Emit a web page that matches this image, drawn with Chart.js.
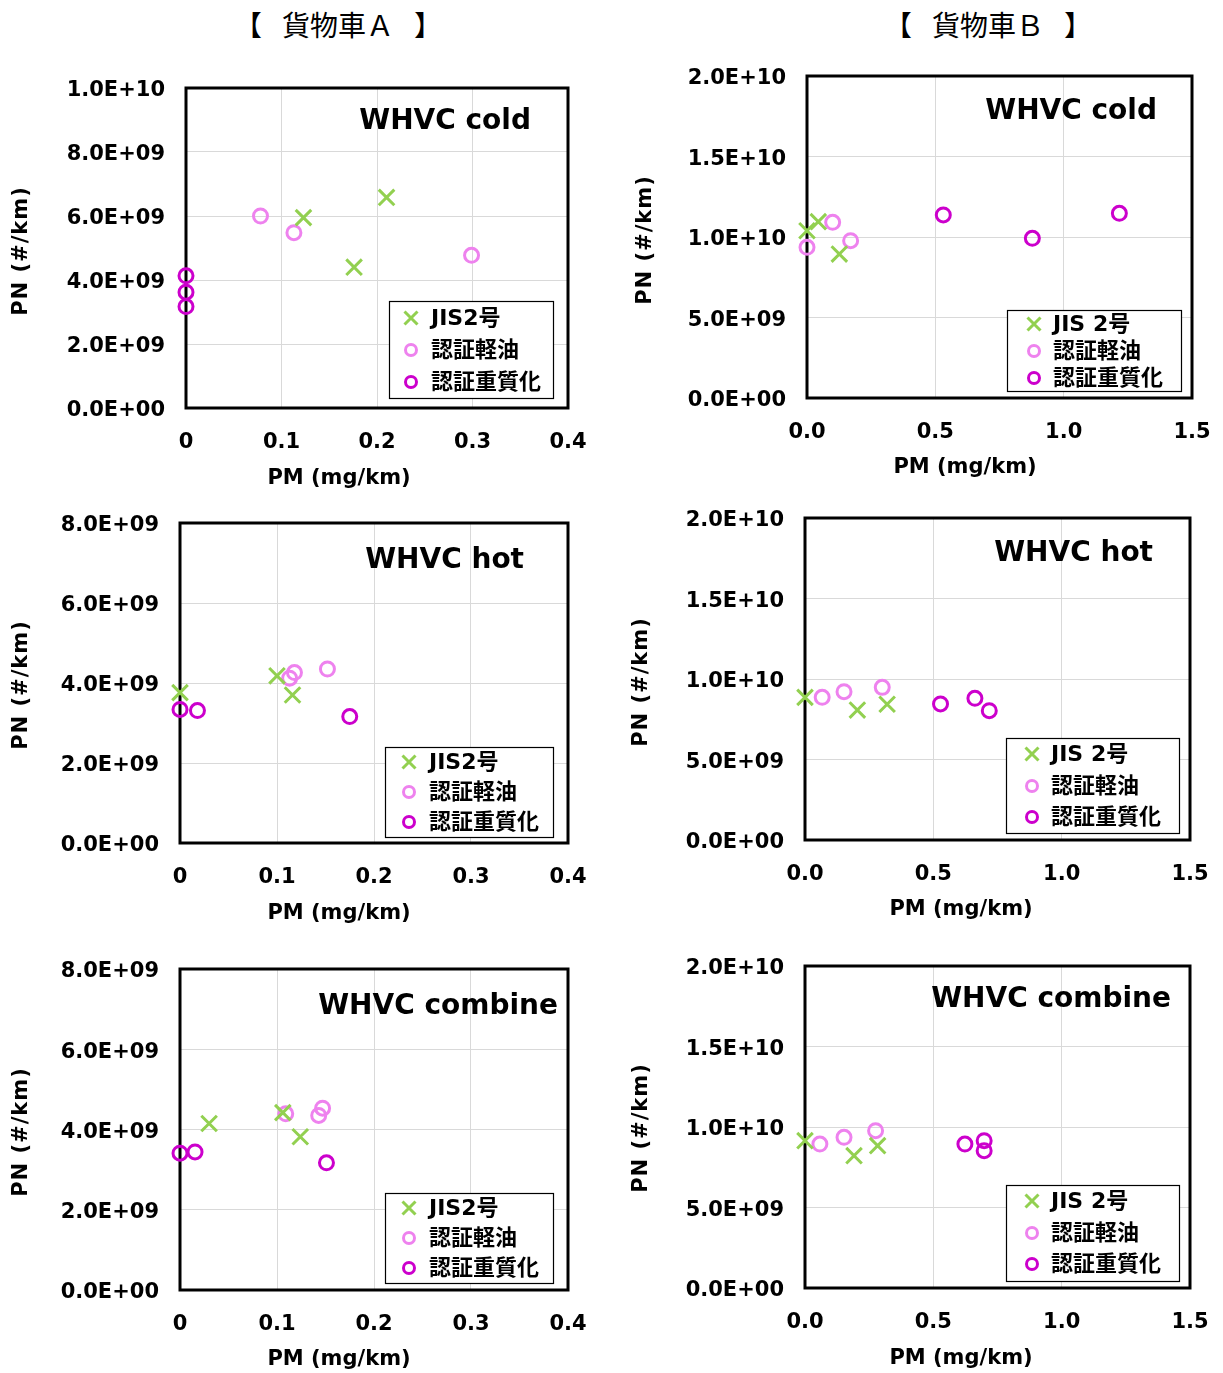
<!DOCTYPE html>
<html>
<head>
<meta charset="utf-8">
<script src="https://cdn.jsdelivr.net/npm/chart.js@4.4.1/dist/chart.umd.min.js"></script>
<style>
body { margin: 0; background: #fff; width: 1223px; height: 1373px; position: relative; overflow: hidden; }
canvas { position: absolute; }
.head { position: absolute; top: 5px; font: 28px 'Noto Sans CJK JP', sans-serif; line-height: 38px; transform: translateX(-50%); white-space: nowrap; color: #000; }
.head span.mid { margin: 0 20px; }
</style>
</head>
<body>
<div class="head" style="left:338px"><span>【</span><span class="mid">貨物車Ａ</span><span>】</span></div>
<div class="head" style="left:988px"><span>【</span><span class="mid">貨物車Ｂ</span><span>】</span></div>
<script>
// series names
const seriesA = ['JIS2号', '認証軽油', '認証重質化'];
const seriesB = ['JIS 2号', '認証軽油', '認証重質化'];

// tick labels
const xTicksA = ['0', '0.1', '0.2', '0.3', '0.4'];
const xTicksB = ['0.0', '0.5', '1.0', '1.5'];
const yTicks10 = ['0.0E+00', '2.0E+09', '4.0E+09', '6.0E+09', '8.0E+09', '1.0E+10'];
const yTicks8 = ['0.0E+00', '2.0E+09', '4.0E+09', '6.0E+09', '8.0E+09'];
const yTicks20 = ['0.0E+00', '5.0E+09', '1.0E+10', '1.5E+10', '2.0E+10'];

// [PM mg/km, PN #/km]
const aColdJis = [[0.123, 5.95e9], [0.210, 6.58e9], [0.176, 4.40e9]];
const aColdLight = [[0.078, 6.00e9], [0.113, 5.48e9], [0.299, 4.77e9]];
const aColdHeavy = [[0, 4.13e9], [0, 3.62e9], [0, 3.17e9]];

const bColdJis = [[0, 10.39e9], [0.044, 10.95e9], [0.126, 8.94e9]];
const bColdLight = [[0.100, 10.91e9], [0.170, 9.77e9], [0, 9.36e9]];
const bColdHeavy = [[0.531, 11.37e9], [0.878, 9.92e9], [1.217, 11.47e9]];

const aHotJis = [[0, 3.76e9], [0.100, 4.18e9], [0.116, 3.70e9]];
const aHotLight = [[0.118, 4.26e9], [0.113, 4.12e9], [0.152, 4.35e9]];
const aHotHeavy = [[0, 3.34e9], [0.018, 3.31e9], [0.175, 3.16e9]];

const bHotJis = [[0, 8.86e9], [0.204, 8.07e9], [0.320, 8.43e9]];
const bHotLight = [[0.067, 8.86e9], [0.152, 9.21e9], [0.301, 9.48e9]];
const bHotHeavy = [[0.528, 8.45e9], [0.662, 8.80e9], [0.718, 8.03e9]];

const aCombJis = [[0.030, 4.15e9], [0.106, 4.42e9], [0.124, 3.82e9]];
const aCombLight = [[0.109, 4.39e9], [0.147, 4.53e9], [0.143, 4.35e9]];
const aCombHeavy = [[0, 3.41e9], [0.0155, 3.44e9], [0.151, 3.17e9]];

const bCombJis = [[0, 9.15e9], [0.191, 8.22e9], [0.283, 8.84e9]];
const bCombLight = [[0.058, 8.94e9], [0.152, 9.36e9], [0.275, 9.77e9]];
const bCombHeavy = [[0.623, 8.94e9], [0.698, 9.15e9], [0.698, 8.53e9]];

const FONT = "'DejaVu Sans', 'Noto Sans CJK JP', sans-serif";
const styles = [
    { pointStyle: 'crossRot', color: '#92D050', radius: 11 },
    { pointStyle: 'circle', color: '#EE82EE', radius: 7 },
    { pointStyle: 'circle', color: '#CC00CC', radius: 7 }
];

// layout of each panel, page pixels
const specs = [
    { box: [0, 60, 610, 500], plot: [186, 88, 568, 408], xMax: 0.4, xStep: 0.1, xTicks: xTicksA, yMax: 1e10, yStep: 2e9, yTicks: yTicks10,
      title: 'WHVC cold', titleAt: [531, 119], xTitle: [339, 477], yTitle: [22, 251],
      legend: { box: [389, 301, 553, 398], rows: [318, 350, 382], mx: 411, tx: 431 }, labels: seriesA, series: [aColdJis, aColdLight, aColdHeavy] },
    { box: [612, 50, 1223, 490], plot: [807, 76, 1192, 398], xMax: 1.5, xStep: 0.5, xTicks: xTicksB, yMax: 2e10, yStep: 5e9, yTicks: yTicks20,
      title: 'WHVC cold', titleAt: [1157, 109], xTitle: [965, 466], yTitle: [646, 240],
      legend: { box: [1007, 310, 1181, 391], rows: [324, 351, 378], mx: 1034, tx: 1053 }, labels: seriesB, series: [bColdJis, bColdLight, bColdHeavy] },
    { box: [0, 500, 610, 935], plot: [180, 523, 568, 843], xMax: 0.4, xStep: 0.1, xTicks: xTicksA, yMax: 8e9, yStep: 2e9, yTicks: yTicks8,
      title: 'WHVC hot', titleAt: [524, 558], xTitle: [339, 912], yTitle: [22, 685],
      legend: { box: [385, 747, 553, 837], rows: [762, 792, 822], mx: 409, tx: 429 }, labels: seriesA, series: [aHotJis, aHotLight, aHotHeavy] },
    { box: [612, 490, 1223, 935], plot: [805, 518, 1190, 840], xMax: 1.5, xStep: 0.5, xTicks: xTicksB, yMax: 2e10, yStep: 5e9, yTicks: yTicks20,
      title: 'WHVC hot', titleAt: [1153, 551], xTitle: [961, 908], yTitle: [642, 682],
      legend: { box: [1006, 738, 1179, 833], rows: [754, 786, 817], mx: 1032, tx: 1051 }, labels: seriesB, series: [bHotJis, bHotLight, bHotHeavy] },
    { box: [0, 945, 610, 1373], plot: [180, 969, 568, 1290], xMax: 0.4, xStep: 0.1, xTicks: xTicksA, yMax: 8e9, yStep: 2e9, yTicks: yTicks8,
      title: 'WHVC combine', titleAt: [558, 1004], xTitle: [339, 1358], yTitle: [22, 1132],
      legend: { box: [385, 1193, 553, 1283], rows: [1208, 1238, 1268], mx: 409, tx: 429 }, labels: seriesA, series: [aCombJis, aCombLight, aCombHeavy] },
    { box: [612, 940, 1223, 1373], plot: [805, 966, 1190, 1288], xMax: 1.5, xStep: 0.5, xTicks: xTicksB, yMax: 2e10, yStep: 5e9, yTicks: yTicks20,
      title: 'WHVC combine', titleAt: [1171, 997], xTitle: [961, 1357], yTitle: [642, 1128],
      legend: { box: [1006, 1185, 1179, 1281], rows: [1201, 1233, 1264], mx: 1032, tx: 1051 }, labels: seriesB, series: [bCombJis, bCombLight, bCombHeavy] }
];

function drawMarker(ctx, style, x, y, r) {
    ctx.save();
    ctx.strokeStyle = style.color;
    ctx.lineWidth = 3;
    ctx.beginPath();
    if (style.pointStyle === 'circle') {
        ctx.arc(x, y, r, 0, Math.PI * 2);
    } else {
        ctx.moveTo(x - r, y - r); ctx.lineTo(x + r, y + r);
        ctx.moveTo(x + r, y - r); ctx.lineTo(x - r, y + r);
    }
    ctx.stroke();
    ctx.restore();
}

// fixed axis sizes so the plot area lands where the spec says
function pinScale(s, size) {
    if (s.isHorizontal()) s.height = size; else s.width = size;
    s.paddingTop = 0; s.paddingBottom = 0; s.paddingLeft = 0; s.paddingRight = 0;
}

function build(spec) {
    const [bx0, by0, bx1, by1] = spec.box;
    const [L, T, R, B] = spec.plot;
    const cv = document.createElement('canvas');
    cv.width = bx1 - bx0;
    cv.height = by1 - by0;
    cv.style.left = bx0 + 'px';
    cv.style.top = by0 + 'px';
    document.body.appendChild(cv);

    const decor = {
        id: 'decor',
        beforeDatasetsDraw(chart) {
            const { ctx, chartArea: a } = chart;
            ctx.save();
            ctx.strokeStyle = '#000';
            ctx.lineWidth = 3;
            ctx.strokeRect(a.left, a.top, a.right - a.left, a.bottom - a.top);
            ctx.restore();
        },
        afterDraw(chart) {
            const ctx = chart.ctx;
            ctx.save();
            ctx.fillStyle = '#000';
            ctx.textBaseline = 'middle';

            ctx.font = 'bold 28px ' + FONT;
            ctx.textAlign = 'right';
            ctx.fillText(spec.title, spec.titleAt[0] - bx0, spec.titleAt[1] - by0 + 3);

            ctx.font = 'bold 21px ' + FONT;
            ctx.textAlign = 'center';
            ctx.fillText('PM (mg/km)', spec.xTitle[0] - bx0, spec.xTitle[1] - by0 + 2);
            ctx.save();
            ctx.translate(spec.yTitle[0] - bx0, spec.yTitle[1] - by0);
            ctx.rotate(-Math.PI / 2);
            ctx.letterSpacing = '1px';
            ctx.fillText('PN (#/km)', 0, 0);
            ctx.restore();

            // legend
            const lg = spec.legend;
            const [lx0, ly0, lx1, ly1] = lg.box;
            ctx.fillStyle = '#fff';
            ctx.fillRect(lx0 - bx0, ly0 - by0, lx1 - lx0, ly1 - ly0);
            ctx.strokeStyle = '#000';
            ctx.lineWidth = 1.2;
            ctx.strokeRect(lx0 - bx0 + 0.5, ly0 - by0 + 0.5, lx1 - lx0, ly1 - ly0);
            ctx.font = 'bold 22px ' + FONT;
            ctx.textAlign = 'left';
            spec.labels.forEach((label, i) => {
                const y = lg.rows[i] - by0;
                drawMarker(ctx, styles[i], lg.mx - bx0, y, i === 0 ? 6.5 : 5.5);
                ctx.fillStyle = '#000';
                ctx.fillText(label, lg.tx - bx0, y + 1);
            });
            ctx.restore();
        }
    };

    const tickFont = { family: FONT, size: 21, weight: 'bold' };

    new Chart(cv, {
        type: 'scatter',
        data: {
            datasets: spec.series.map((pts, i) => ({
                label: spec.labels[i],
                data: pts.map(p => ({ x: p[0], y: p[1] })),
                pointStyle: styles[i].pointStyle,
                pointRadius: styles[i].radius,
                pointHoverRadius: styles[i].radius,
                pointBorderWidth: 3,
                pointBorderColor: styles[i].color,
                pointBackgroundColor: 'rgba(0,0,0,0)',
                clip: false
            }))
        },
        options: {
            responsive: false,
            animation: false,
            devicePixelRatio: 1,
            events: [],
            layout: { padding: { left: 0, top: T - by0, right: bx1 - R, bottom: 0 } },
            plugins: { legend: { display: false }, tooltip: { enabled: false } },
            scales: {
                x: {
                    type: 'linear', min: 0, max: spec.xMax,
                    ticks: { stepSize: spec.xStep, padding: 22, color: '#000', font: tickFont, maxRotation: 0,
                             callback: (v, i) => spec.xTicks[i] },
                    grid: { color: '#d9d9d9', lineWidth: 1, drawTicks: false },
                    border: { display: false },
                    afterFit: s => pinScale(s, by1 - B)
                },
                y: {
                    type: 'linear', min: 0, max: spec.yMax,
                    ticks: { stepSize: spec.yStep, padding: 21, labelOffset: 3, color: '#000', font: tickFont,
                             callback: (v, i) => spec.yTicks[i] },
                    grid: { color: '#d9d9d9', lineWidth: 1, drawTicks: false },
                    border: { display: false },
                    afterFit: s => pinScale(s, L - bx0)
                }
            }
        },
        plugins: [decor]
    });
}

specs.forEach(build);
</script>
</body>
</html>
